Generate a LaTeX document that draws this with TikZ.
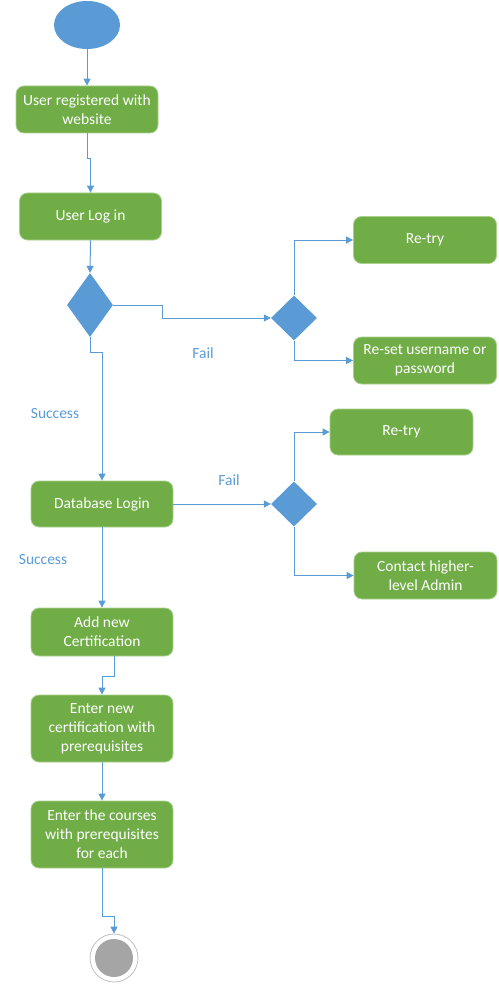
\documentclass[tikz,border=0pt]{standalone}
\usepackage{fontspec}
\setmainfont{Carlito}
\usetikzlibrary{shapes.geometric,arrows.meta,calc}
\definecolor{gfill}{HTML}{70AD47}
\definecolor{gline}{HTML}{A9D18E}
\definecolor{bblue}{HTML}{5B9BD5}
\definecolor{egray}{HTML}{A5A5A5}
\begin{document}
\begin{tikzpicture}[x=1pt,y=-1pt,
  actbox/.style={draw=gline,line width=0.8pt,fill=gfill,rounded corners=8pt,
    text=white,align=center,inner sep=0pt,minimum width=142pt,minimum height=47pt,
    font=\fontsize{15.5}{19}\selectfont},
  decis/.style={diamond,fill=bblue,inner sep=0pt,minimum width=46pt,minimum height=45pt},
  conn/.style={draw=bblue,line width=1pt,-{Triangle[width=7pt,length=7pt]}},
  lbl/.style={text=bblue,font=\fontsize{15.5}{19}\selectfont,inner sep=0pt}]
\useasboundingbox (0,0) rectangle (498,984);
\node[ellipse,fill=bblue,minimum width=66pt,minimum height=48pt,inner sep=0pt] (start) at (87,25) {};
\node[actbox] (b1) at (87,109.5) {User registered with\\website};
\node[actbox] (b2) at (90.5,216.5) {User Log in};
\node[decis,minimum height=64pt] (d1) at (90,305) {};
\node[decis] (d2) at (294,318) {};
\node[actbox,minimum width=143pt] (r1) at (425,240) {Re-try};
\node[actbox,minimum width=143pt] (rs) at (425,360.5) {Re-set username or\\password};
\node[actbox,minimum height=46pt] (db) at (102,504) {Database Login};
\node[decis] (d3) at (294,504) {};
\node[actbox,minimum width=143pt,minimum height=46pt] (r2) at (401.5,432) {Re-try};
\node[actbox,minimum width=143pt] (ct) at (425.5,575.5) {Contact higher-\\level Admin};
\node[actbox,minimum height=48pt] (add) at (102,632) {Add new\\Certification};
\node[actbox,minimum height=67pt] (e1) at (102,728.5) {Enter new\\certification with\\prerequisites};
\node[actbox,minimum height=67pt] (e2) at (102,834.5) {Enter the courses\\with prerequisites\\for each};
\node[circle,draw=egray!70,line width=0.8pt,fill=white,minimum size=48pt,inner sep=0pt] (end) at (114,958) {};
\node[circle,fill=egray,minimum size=38pt,inner sep=0pt] (endin) at (114,958) {};
\node[lbl] (fail1) at (203,353) {Fail};
\node[lbl] (fail2) at (229,480) {Fail};
\node[lbl] (succ1) at (55,414) {Success};
\node[lbl] (succ2) at (43,560) {Success};
\draw[conn] (start) -- (b1);
\draw[conn] (b1.south) -- ++(0,25) -| (b2.north);
\draw[conn] (b2.south) -- (d1.north);
\draw[conn] (d1.east) -- ++(49,0) |- (d2.west);
\draw[conn] (d2.north) |- (r1.west);
\draw[conn] (d2.south) |- (rs.west);
\draw[conn] (d1.south) -- ++(0,15) -| (db.north);
\draw[conn] (db.east) -- (d3.west);
\draw[conn] (d3.north) |- (r2.west);
\draw[conn] (d3.south) |- (ct.west);
\draw[conn] (db.south) -- (add.north);
\draw[conn] ($(add.south)+(12,0)$) -- ++(0,20) -| (e1.north);
\draw[conn] (e1.south) -- (e2.north);
\draw[conn] (e2.south) -- ++(0,48) -| (end.north);
\end{tikzpicture}
\end{document}
